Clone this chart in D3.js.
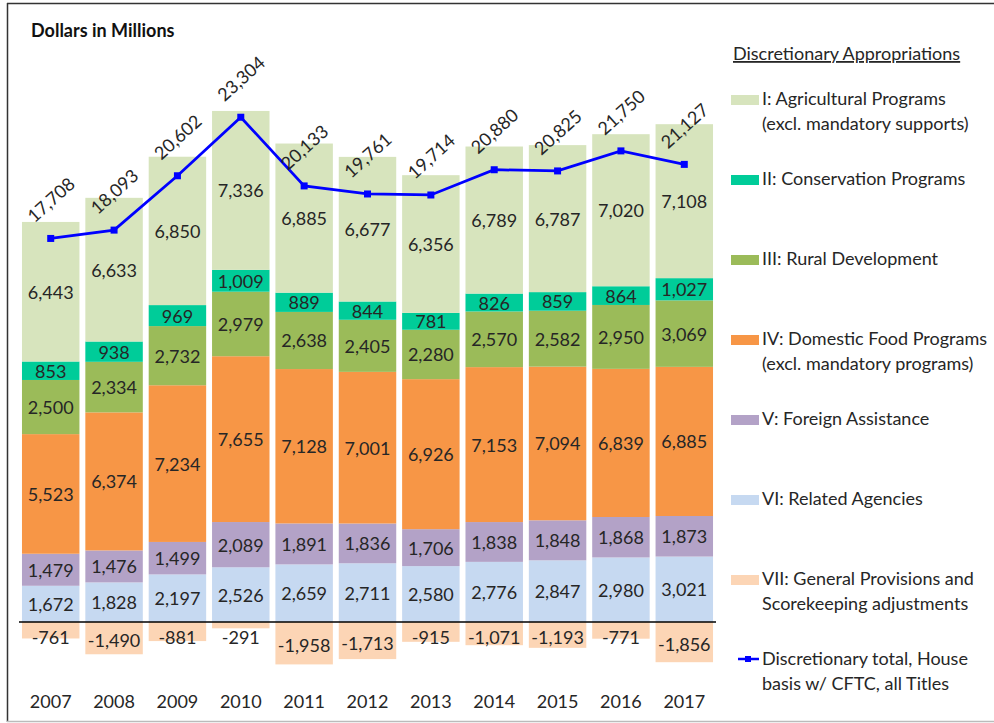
<!DOCTYPE html>
<html><head><meta charset="utf-8">
<script src="https://cdn.jsdelivr.net/npm/d3@7/dist/d3.min.js"></script>
<style>
body{margin:0;background:#fff;}
text{font-family:Lato,"Open Sans",sans-serif;}
</style>
</head><body>
<svg id="c" width="994" height="723"></svg>
<script>
const years = ["2007","2008","2009","2010","2011","2012","2013","2014","2015","2016","2017"];
const agricultural = [6443,6633,6850,7336,6885,6677,6356,6789,6787,7020,7108];
const conservation = [853,938,969,1009,889,844,781,826,859,864,1027];
const rural = [2500,2334,2732,2979,2638,2405,2280,2570,2582,2950,3069];
const domesticFood = [5523,6374,7234,7655,7128,7001,6926,7153,7094,6839,6885];
const foreign = [1479,1476,1499,2089,1891,1836,1706,1838,1848,1868,1873];
const related = [1672,1828,2197,2526,2659,2711,2580,2776,2847,2980,3021];
const generalProv = [-761,-1490,-881,-291,-1958,-1713,-915,-1071,-1193,-771,-1856];
const totals = [17708,18093,20602,23304,20133,19761,19714,20880,20825,21750,21127];

const seriesKeys = ["VI","V","IV","III","II","I","VII"];
const seriesValues = {I:agricultural, II:conservation, III:rural, IV:domesticFood, V:foreign, VI:related, VII:generalProv};
const seriesColors = {I:"#d7e4bd", II:"#00cc99", III:"#9bbb59", IV:"#f79646", V:"#b3a2c7", VI:"#c6d9f1", VII:"#fcd5b5"};
const legendItems = [
  {key:"I", lines:["I: Agricultural Programs","(excl. mandatory supports)"]},
  {key:"II", lines:["II: Conservation Programs"]},
  {key:"III", lines:["III: Rural Development"]},
  {key:"IV", lines:["IV: Domestic Food Programs","(excl. mandatory programs)"]},
  {key:"V", lines:["V: Foreign Assistance"]},
  {key:"VI", lines:["VI: Related Agencies"]},
  {key:"VII", lines:["VII: General Provisions and","Scorekeeping adjustments"]},
  {key:"line", lines:["Discretionary total, House","basis w/ CFTC, all Titles"]}
];

const svg = d3.select("#c");
const fmt = v => d3.format(",")(v).replace("\u2212","-");
const FS = 18;

// frame
svg.append("line").attr("x1",7.5).attr("x2",7.5).attr("y1",3).attr("y2",722).attr("stroke","#333").attr("stroke-width",1.5);
svg.append("line").attr("x1",7).attr("x2",994).attr("y1",3.5).attr("y2",3.5).attr("stroke","#333").attr("stroke-width",1.5);
svg.append("line").attr("x1",7).attr("x2",994).attr("y1",721.5).attr("y2",721.5).attr("stroke","#bbb").attr("stroke-width",1.5);

const x = d3.scaleBand().domain(years).range([19,716]).paddingInner(0.093).paddingOuter(0.047);
const y = d3.scaleLinear().domain([-3000,25000]).range([622+3000*0.02166, 622-25000*0.02166]);

const table = years.map((yr,i)=>{
  const o = {year:yr};
  seriesKeys.forEach(k=>o[k]=seriesValues[k][i]);
  return o;
});
const stacked = d3.stack().keys(seriesKeys).offset(d3.stackOffsetDiverging)(table);

const g = svg.append("g");
stacked.forEach(s=>{
  const grp = g.append("g");
  grp.selectAll("rect").data(s).join("rect")
    .attr("x",d=>x(d.data.year))
    .attr("width",x.bandwidth())
    .attr("y",d=>y(Math.max(d[0],d[1])))
    .attr("height",d=>Math.abs(y(d[0])-y(d[1])))
    .attr("fill",seriesColors[s.key]);
});
stacked.forEach(s=>{
  g.append("g").selectAll("text").data(s).join("text")
    .attr("x",d=>x(d.data.year)+x.bandwidth()/2)
    .attr("y",d=>{
      const mid=(y(d[0])+y(d[1]))/2;
      return s.key==="VII" ? Math.max(mid+2, y(0)+15) : mid;
    })
    .attr("text-anchor","middle")
    .attr("dominant-baseline","central")
    .attr("font-size",FS)
    .attr("fill","#262626")
    .text(d=>fmt(d.data[s.key]));
});

// zero line
svg.append("line").attr("x1",19).attr("x2",716).attr("y1",y(0)).attr("y2",y(0)).attr("stroke","#000").attr("stroke-width",1.5);

// year labels
svg.append("g").selectAll("text").data(years).join("text")
  .attr("x",d=>x(d)+x.bandwidth()/2).attr("y",708)
  .attr("text-anchor","middle").attr("font-size",FS).attr("fill","#262626").text(d=>d);

// total line
const cx = yr=>x(yr)+x.bandwidth()/2;
const line = d3.line().x((d,i)=>cx(years[i])).y(d=>y(d));
svg.append("path").datum(totals).attr("d",line).attr("fill","none").attr("stroke","#0000ff").attr("stroke-width",2.75);
svg.append("g").selectAll("rect").data(totals).join("rect")
  .attr("x",(d,i)=>cx(years[i])-3.5).attr("y",d=>y(d)-3.5).attr("width",7).attr("height",7).attr("fill","#0000ff");
svg.append("g").selectAll("text").data(totals).join("text")
  .attr("transform",(d,i)=>`translate(${cx(years[i])},${y(d)-39}) rotate(-42)`)
  .attr("text-anchor","middle").attr("dominant-baseline","central")
  .attr("font-size",FS).attr("fill","#262626").text(d=>fmt(d));

// title
svg.append("text").attr("x",31).attr("y",37).attr("font-size",18).attr("font-weight","bold").attr("fill","#111").text("Dollars in Millions");

// legend
const lg = svg.append("g");
lg.append("text").attr("x",733).attr("y",60).attr("font-size",FS).attr("fill","#262626")
  .attr("text-decoration","underline").text("Discretionary Appropriations");
legendItems.forEach((it,i)=>{
  const by = 105 + i*80;
  if(it.key==="line"){
    lg.append("line").attr("x1",738).attr("x2",759).attr("y1",by-6).attr("y2",by-6).attr("stroke","#0000ff").attr("stroke-width",2.5);
    lg.append("rect").attr("x",745).attr("y",by-9).attr("width",6).attr("height",6).attr("fill","#0000ff");
  } else {
    lg.append("rect").attr("x",731).attr("y",by-10).attr("width",28).attr("height",10).attr("fill",seriesColors[it.key]);
  }
  it.lines.forEach((t,j)=>{
    lg.append("text").attr("x",762).attr("y",by+j*24.5).attr("font-size",FS).attr("fill","#262626").text(t);
  });
});
</script>
</body></html>
